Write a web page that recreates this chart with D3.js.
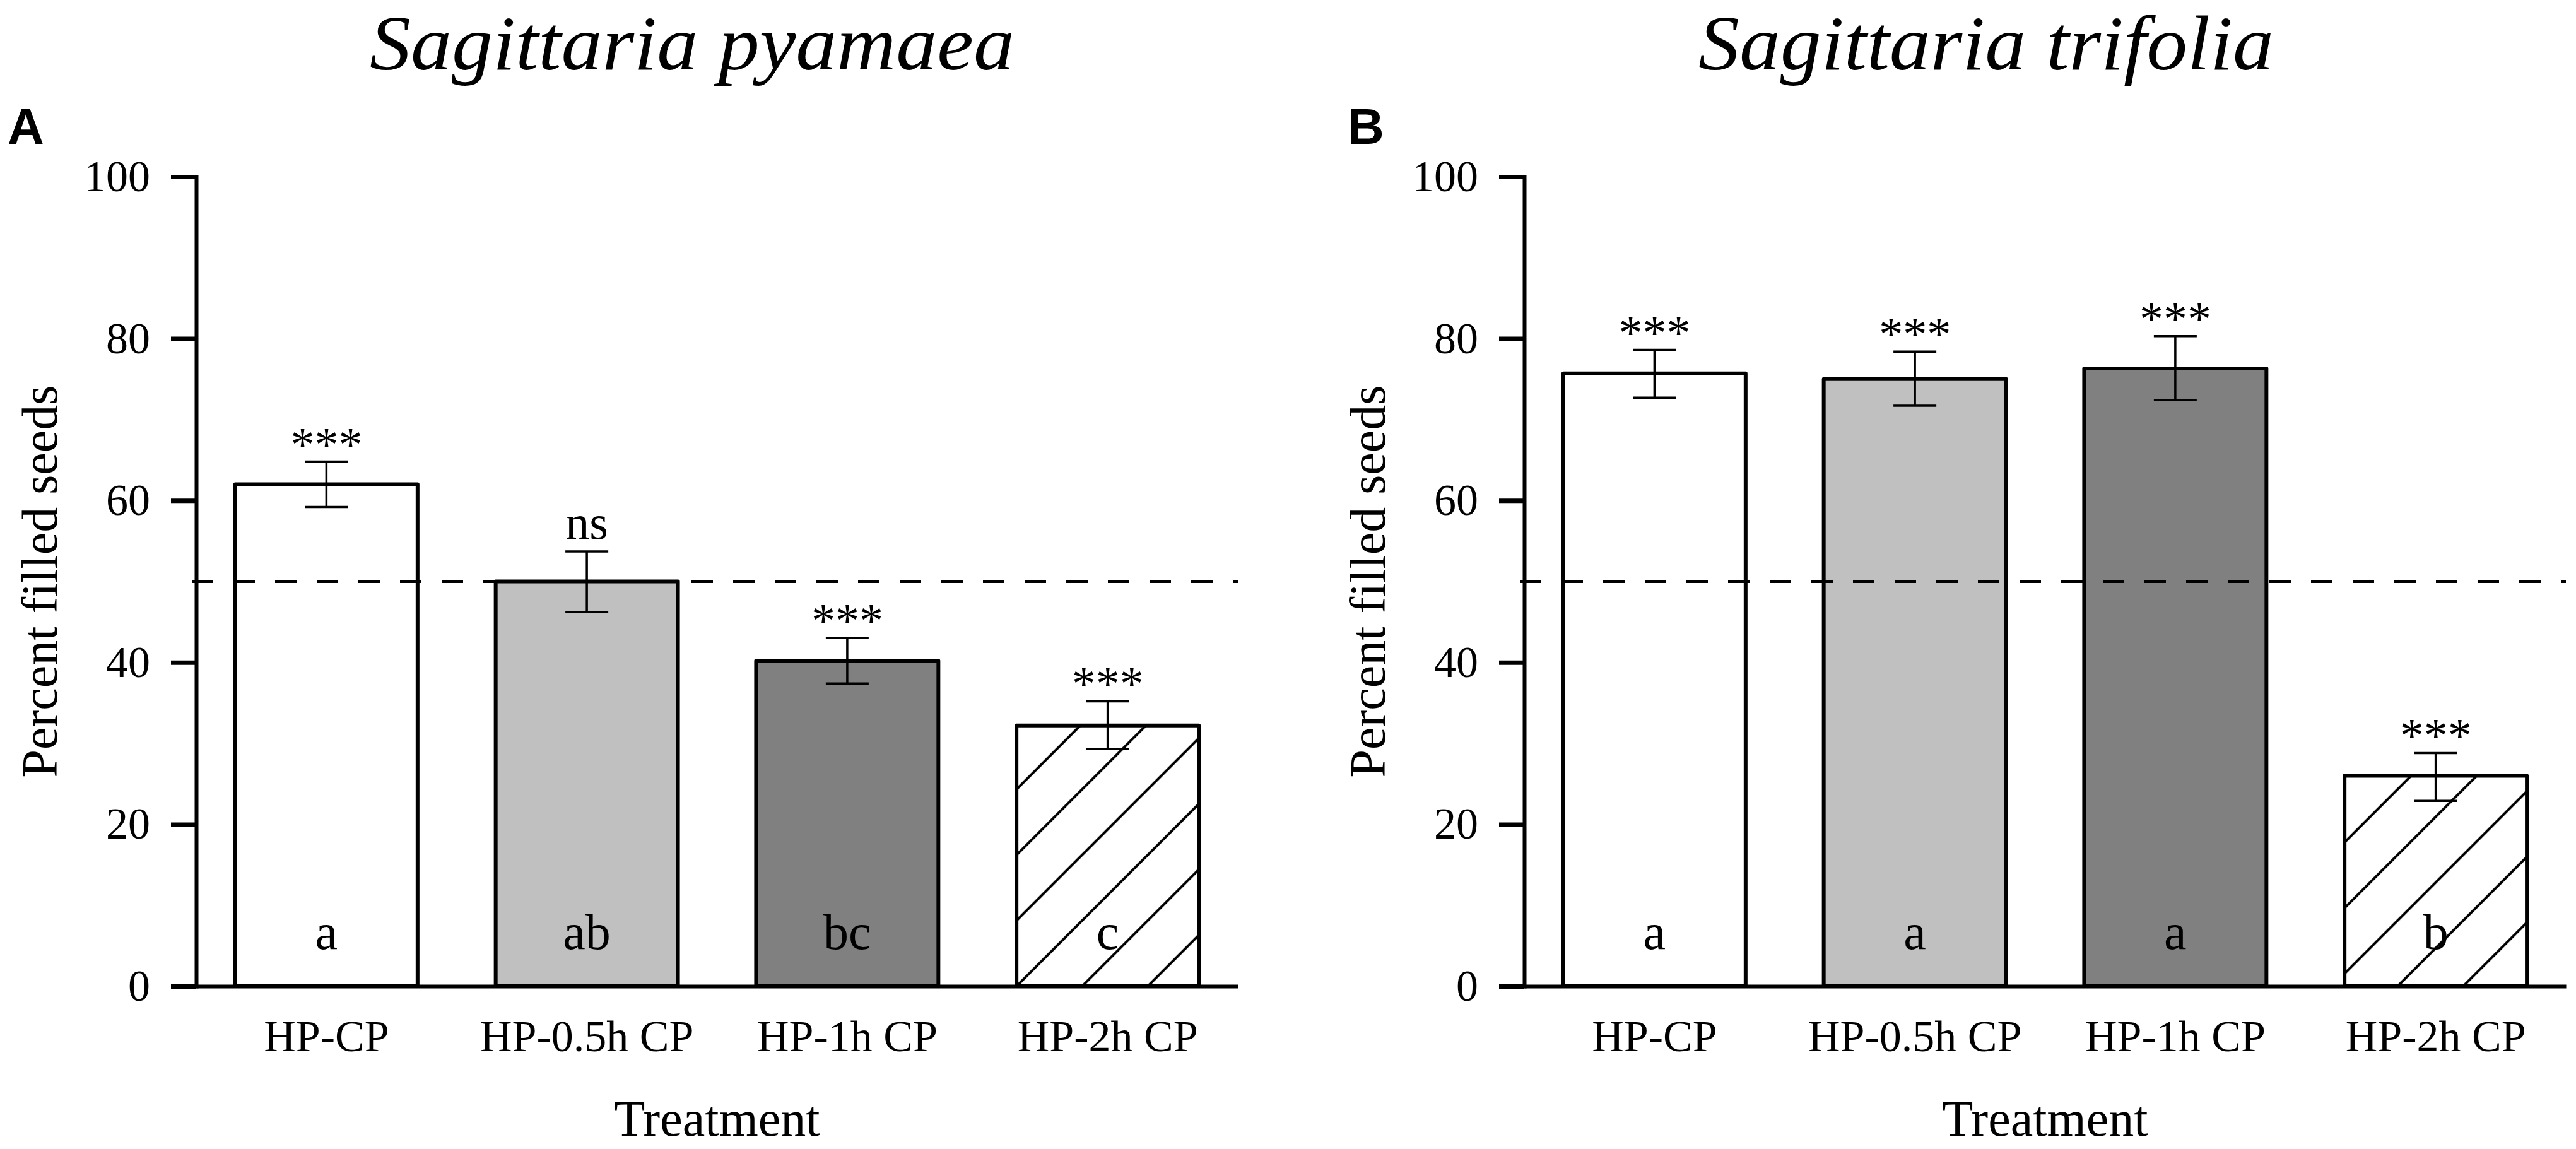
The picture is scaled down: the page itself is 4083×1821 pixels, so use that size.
<!DOCTYPE html>
<html>
<head>
<meta charset="utf-8">
<script src="https://cdn.jsdelivr.net/npm/d3@7"></script>
<style>
  body { margin: 0; background: #fff; }
  text { font-family: "Liberation Serif", "Times New Roman", serif; fill: #000; }
</style>
</head>
<body>
<svg id="chart" width="4083" height="1821"></svg>
<script>
// categories + ticks
const treatments = ["HP-CP", "HP-0.5h CP", "HP-1h CP", "HP-2h CP"];
const yTicks = [0, 20, 40, 60, 80, 100];
const refLine = 50;

// panel A - Sagittaria pyamaea
const titleA = "Sagittaria pyamaea";
const meanA = [62.0, 50.0, 40.2, 32.2];
const lowA = [59.2, 46.2, 37.4, 29.3];
const highA = [64.8, 53.7, 43.0, 35.2];
const sigA = ["***", "ns", "***", "***"];
const groupA = ["a", "ab", "bc", "c"];

// panel B - Sagittaria trifolia
const titleB = "Sagittaria trifolia";
const meanB = [75.7, 75.0, 76.3, 26.0];
const lowB = [72.7, 71.7, 72.4, 22.9];
const highB = [78.6, 78.4, 80.3, 28.8];
const sigB = ["***", "***", "***", "***"];
const groupB = ["a", "a", "a", "b"];

const svg = d3.select("#chart");
svg.append("rect").attr("width", 4083).attr("height", 1821).attr("fill", "#fff");
const defs = svg.append("defs");

const plotTop = 280, plotBottom = 1563, plotWidth = 1651;

function drawPanel(p) {
    const x = d3.scaleBand()
        .domain(treatments)
        .range([p.x0, p.x0 + plotWidth])
        .paddingInner(0.3)
        .paddingOuter(0.15);
    const y = d3.scaleLinear().domain([0, 100]).range([plotBottom, plotTop]);

    const rows = treatments.map((t, i) => ({
        t: t, mean: p.mean[i], low: p.low[i], high: p.high[i], sig: p.sig[i], grp: p.group[i]
    }));

    // hatch pattern, lined up with the last bar's bottom-left corner
    const hatchId = "hatch" + p.letter;
    const pat = defs.append("pattern")
        .attr("id", hatchId)
        .attr("patternUnits", "userSpaceOnUse")
        .attr("x", x(treatments[3]) + p.hatchShift).attr("y", y(0))
        .attr("width", 104).attr("height", 104);
    pat.append("rect").attr("width", 104).attr("height", 104).attr("fill", "#fff");
    pat.append("path")
        .attr("d", "M0,104L104,0M-52,52L52,-52M52,156L156,52")
        .attr("stroke", "#000").attr("stroke-width", 4);

    const fills = ["#ffffff", "#c0c0c0", "#808080", "url(#" + hatchId + ")"];

    const g = svg.append("g");

    // bars
    g.selectAll("rect.bar")
        .data(rows)
        .join("rect")
        .attr("class", "bar")
        .attr("x", d => x(d.t))
        .attr("y", d => y(d.mean))
        .attr("width", x.bandwidth())
        .attr("height", d => y(0) - y(d.mean))
        .attr("fill", (d, i) => fills[i])
        .attr("stroke", "#000")
        .attr("stroke-width", 6)
        .attr("stroke-linejoin", "round");

    // 50% reference line
    g.append("line")
        .attr("x1", p.x0 - 7).attr("x2", p.x0 + plotWidth)
        .attr("y1", y(refLine)).attr("y2", y(refLine))
        .attr("stroke", "#000")
        .attr("stroke-width", 5)
        .attr("stroke-dasharray", "34,32");

    // error bars
    const cx = d => x(d.t) + x.bandwidth() / 2;
    const eb = g.selectAll("g.err").data(rows).join("g").attr("class", "err")
        .attr("stroke", "#000").attr("stroke-width", 3.5);
    eb.append("line").attr("x1", cx).attr("x2", cx)
        .attr("y1", d => y(d.low)).attr("y2", d => y(d.high));
    eb.append("line").attr("x1", d => cx(d) - 34).attr("x2", d => cx(d) + 34)
        .attr("y1", d => y(d.high)).attr("y2", d => y(d.high));
    eb.append("line").attr("x1", d => cx(d) - 34).attr("x2", d => cx(d) + 34)
        .attr("y1", d => y(d.low)).attr("y2", d => y(d.low));

    // significance marks
    g.selectAll("text.sig").data(rows).join("text")
        .attr("class", "sig")
        .attr("x", cx)
        .attr("y", d => y(d.high) - (d.sig === "ns" ? 20 : 2))
        .attr("text-anchor", "middle")
        .attr("font-size", 76)
        .text(d => d.sig);

    // group letters
    g.selectAll("text.grp").data(rows).join("text")
        .attr("class", "grp")
        .attr("x", cx)
        .attr("y", plotBottom - 59)
        .attr("text-anchor", "middle")
        .attr("font-size", 80)
        .text(d => d.grp);

    // axes
    const yAxis = d3.axisLeft(y).tickValues(yTicks).tickSize(40).tickSizeOuter(0).tickPadding(33);
    const ya = g.append("g").attr("transform", "translate(" + p.x0 + ",0)").call(yAxis);
    ya.select(".domain").attr("stroke-width", 6).attr("stroke-linecap", "square");
    ya.selectAll(".tick line").attr("stroke-width", 7);
    ya.selectAll(".tick text").attr("font-size", 70).attr("font-family", "Liberation Serif");

    const xAxis = d3.axisBottom(x).tickSize(0).tickSizeOuter(0).tickPadding(53);
    const xa = g.append("g").attr("transform", "translate(0," + plotBottom + ")").call(xAxis);
    xa.select(".domain").attr("stroke-width", 6);
    xa.selectAll(".tick text").attr("font-size", 70).attr("font-family", "Liberation Serif");

    // labels
    g.append("text")
        .attr("x", p.x0 + plotWidth / 2).attr("y", 1800)
        .attr("text-anchor", "middle").attr("font-size", 80)
        .text("Treatment");
    g.append("text")
        .attr("transform", "translate(" + (p.x0 - 221) + "," + ((plotTop + plotBottom) / 2) + ") rotate(-90)")
        .attr("text-anchor", "middle").attr("font-size", 80)
        .text("Percent filled seeds");
    g.append("text")
        .attr("x", p.titleX).attr("y", 110)
        .attr("text-anchor", "middle").attr("font-size", 122).attr("font-style", "italic")
        .attr("textLength", p.titleLen).attr("lengthAdjust", "spacingAndGlyphs")
        .text(p.title);
    g.append("text")
        .attr("x", p.letterX).attr("y", 228)
        .attr("font-size", 80).attr("font-weight", "bold")
        .style("font-family", "'Liberation Sans', Arial, sans-serif")
        .text(p.letter);
}

drawPanel({letter: "A", title: titleA, x0: 311, titleX: 1097, titleLen: 1022, letterX: 12, hatchShift: 0,
           mean: meanA, low: lowA, high: highA, sig: sigA, group: groupA});
drawPanel({letter: "B", title: titleB, x0: 2416, titleX: 3148, titleLen: 912, letterX: 2136, hatchShift: -20,
           mean: meanB, low: lowB, high: highB, sig: sigB, group: groupB});
</script>
</body>
</html>
